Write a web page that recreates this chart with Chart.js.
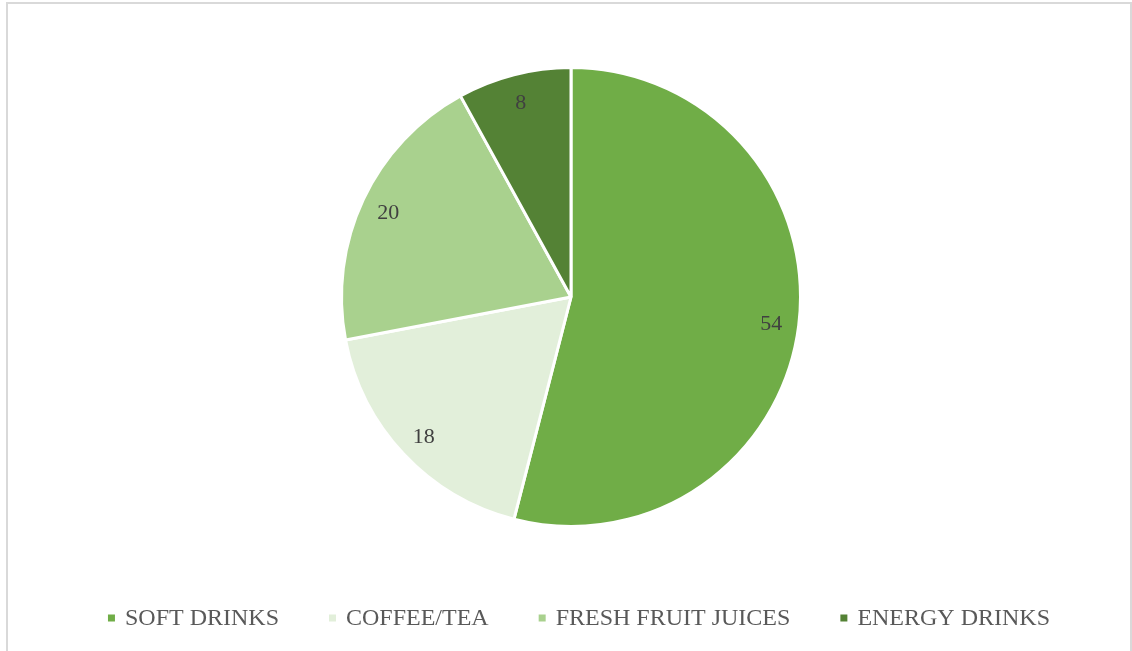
<!DOCTYPE html>
<html>
<head>
<meta charset="utf-8">
<script src="https://cdn.jsdelivr.net/npm/chart.js@4/dist/chart.umd.min.js"></script>
<style>
  html, body { margin: 0; padding: 0; background: #fff; overflow: hidden; }
  #frame { position: absolute; left: 6px; top: 2px; width: 1122px; height: 700px; border: 2px solid #d9d9d9; }
  #drinks { position: absolute; left: 0; top: 0; }
</style>
</head>
<body>
<div id="frame"></div>
<canvas id="drinks" width="1132" height="651"></canvas>
<script>
const categories = ['SOFT DRINKS', 'COFFEE/TEA', 'FRESH FRUIT JUICES', 'ENERGY DRINKS'];
const shares = [54, 18, 20, 8];
const sliceColors = ['#70ad47', '#e2efda', '#a9d18e', '#548235'];

const serif = '"Liberation Serif", "Times New Roman", serif';

// value labels sit near the rim of each slice
const sliceLabels = {
  id: 'sliceLabels',
  afterDatasetsDraw(chart) {
    const ctx = chart.ctx;
    const meta = chart.getDatasetMeta(0);
    ctx.save();
    ctx.font = '22px ' + serif;
    ctx.fillStyle = '#404040';
    ctx.textAlign = 'center';
    ctx.textBaseline = 'middle';
    meta.data.forEach((arc, i) => {
      const p = arc.getProps(['x', 'y', 'startAngle', 'endAngle', 'outerRadius'], true);
      const mid = (p.startAngle + p.endAngle) / 2;
      const r = p.outerRadius * 0.88;
      ctx.fillText(String(shares[i]), p.x + Math.cos(mid) * r, p.y + Math.sin(mid) * r + 2);
    });
    ctx.restore();
  }
};

// legend row along the bottom, small square markers
const bottomLegend = {
  id: 'bottomLegend',
  afterDraw(chart) {
    const ctx = chart.ctx;
    const box = 7, boxGap = 10, itemGap = 50, y = 619;
    ctx.save();
    ctx.font = '24px ' + serif;
    ctx.textBaseline = 'middle';
    const widths = categories.map(c => ctx.measureText(c).width);
    const total = widths.reduce((a, w) => a + box + boxGap + w, 0) + itemGap * (categories.length - 1);
    let x = 579 - total / 2;
    categories.forEach((c, i) => {
      ctx.fillStyle = sliceColors[i];
      ctx.fillRect(x, y - box / 2 - 1, box, box);
      x += box + boxGap;
      ctx.fillStyle = '#595959';
      ctx.fillText(c, x, y);
      x += widths[i] + itemGap;
    });
    ctx.restore();
  }
};

const chart = new Chart(document.getElementById('drinks').getContext('2d'), {
  type: 'pie',
  data: {
    labels: categories,
    datasets: [{
      data: shares,
      backgroundColor: sliceColors,
      borderColor: '#ffffff',
      borderWidth: 3
    }]
  },
  options: {
    responsive: false,
    animation: false,
    layout: { padding: { top: 66, bottom: 123, left: 10, right: 0 } },
    plugins: {
      legend: { display: false },
      tooltip: { enabled: false }
    }
  },
  plugins: [sliceLabels, bottomLegend]
});
</script>
</body>
</html>
